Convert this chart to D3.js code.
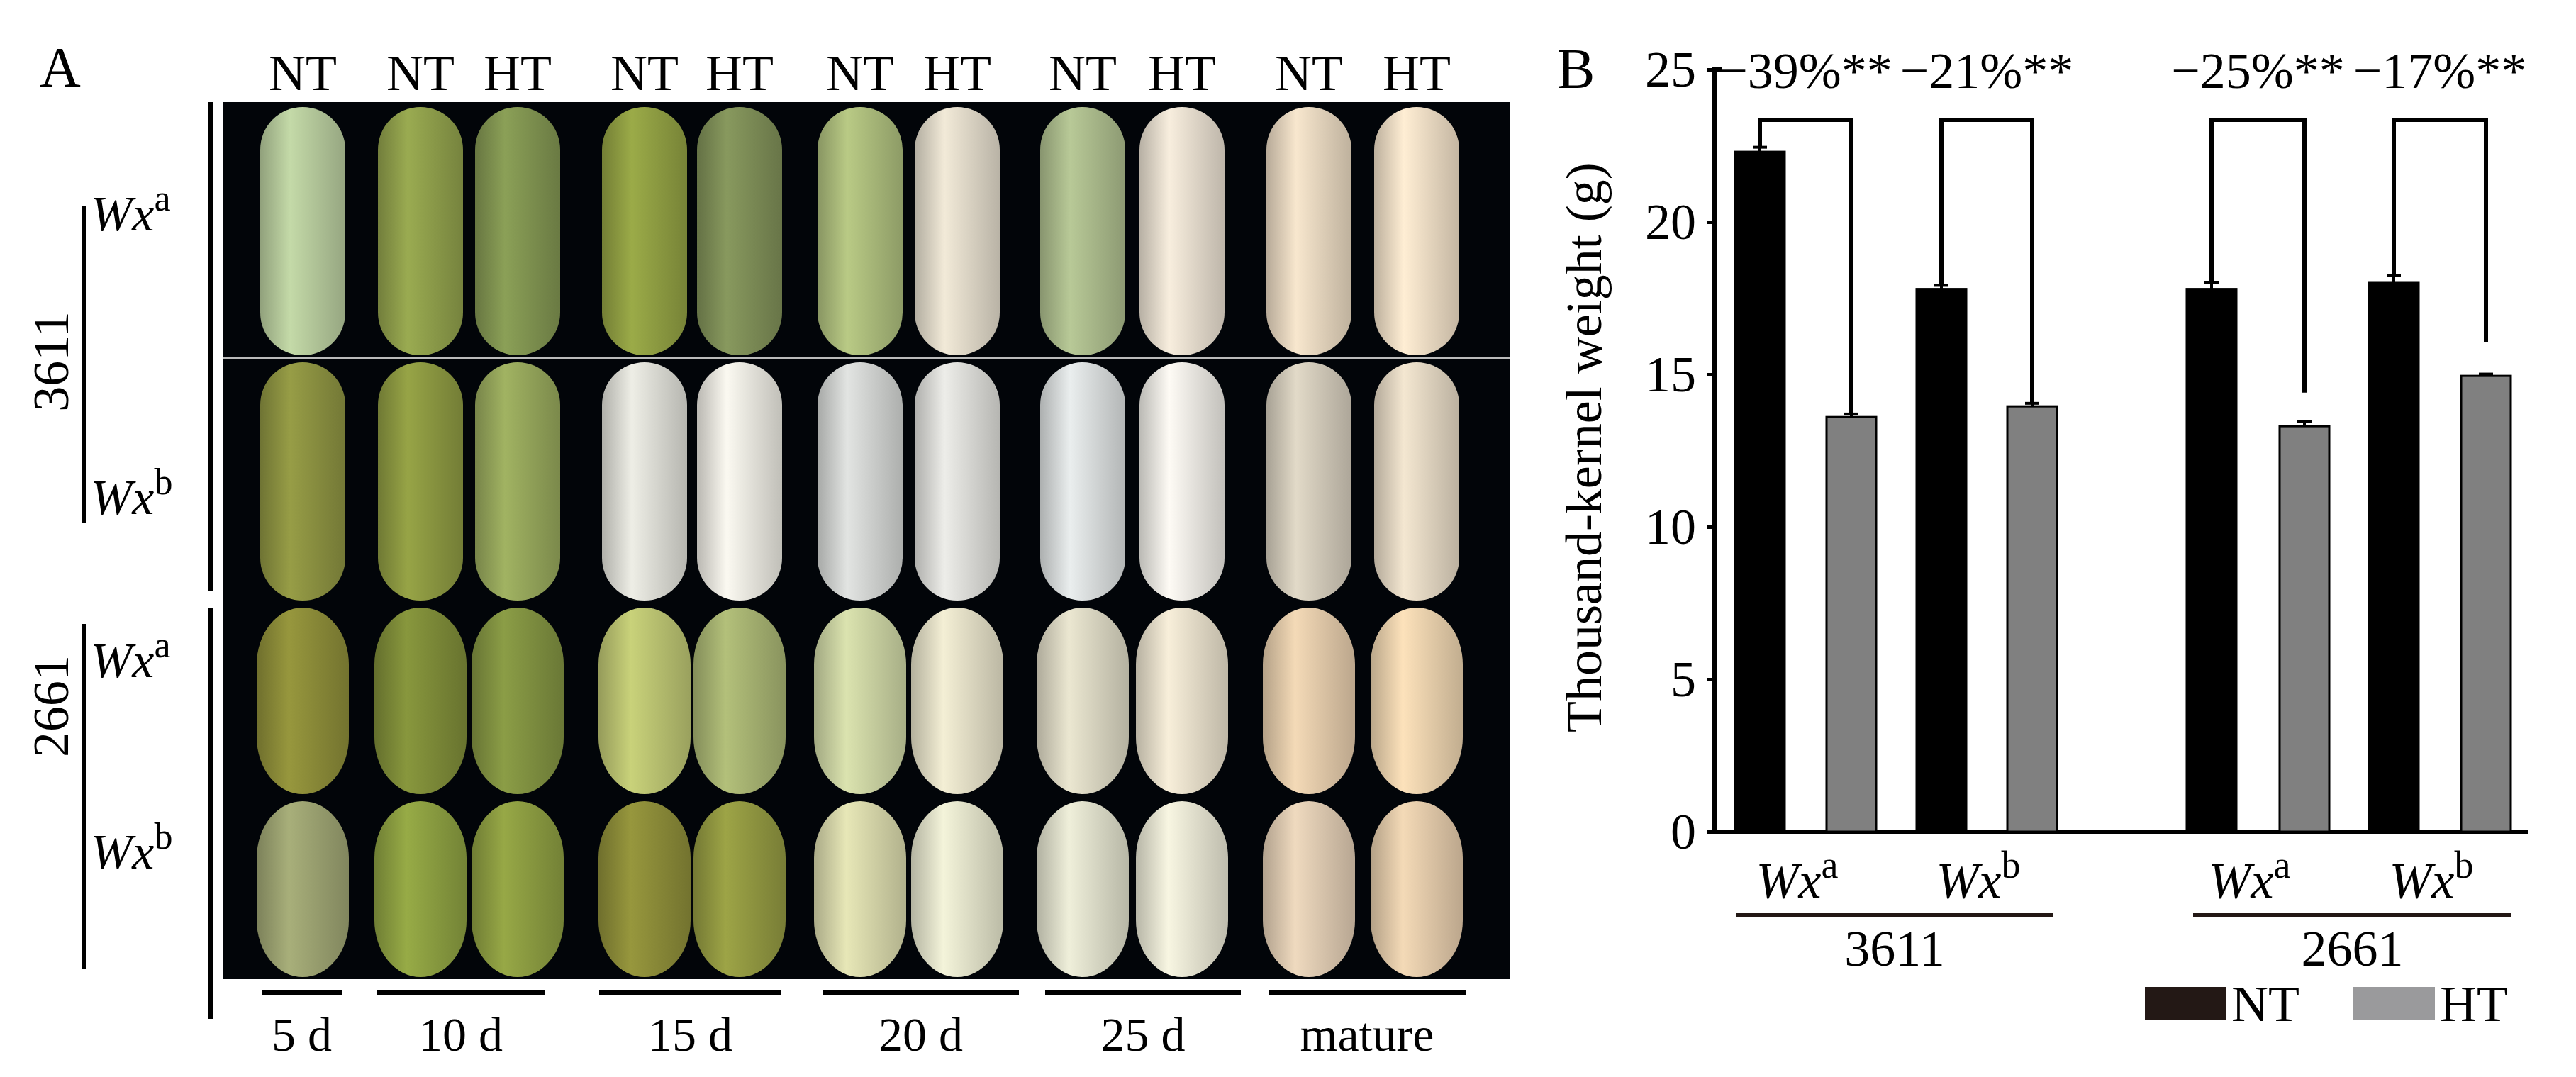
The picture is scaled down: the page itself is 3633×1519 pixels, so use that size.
<!DOCTYPE html>
<html><head><meta charset="utf-8">
<script src="https://cdn.jsdelivr.net/npm/d3@7"></script>
<style>body{margin:0;background:#fff}svg{display:block}text{font-family:"Liberation Serif","DejaVu Serif",serif;fill:#000}</style>
</head><body>
<svg id="c" width="3633" height="1519"></svg>
<script>
// ---- data ----
const groups = ["3611", "2661"];
const alleles = ["a", "b", "a", "b"];
const ntValues = [22.3, 17.8, 17.8, 18.0];
const htValues = [13.6, 13.95, 13.3, 14.95];
const ntErr = [0.15, 0.12, 0.2, 0.25];
const htErr = [0.1, 0.1, 0.15, 0.06];
const changes = ["−39%**", "−21%**", "−25%**", "−17%**"];
const yTicks = [0, 5, 10, 15, 20, 25];
const stageLabels = ["5 d", "10 d", "15 d", "20 d", "25 d", "mature"];
const colTreat = ["NT","NT","HT","NT","HT","NT","HT","NT","HT","NT","HT"];
const grainColors = [
 ["#b3c79a","#8d9c4a","#7f9250","#8e9c42","#7c8c56","#a9b97a","#ddd6c6","#a8b88a","#e3dacb","#e3d3bc","#eadac2"],
 ["#8a9040","#8a9640","#93a45a","#dadad2","#e6e4dc","#cfd1cf","#d9d9d5","#d6dada","#e8e6e0","#cfc7b7","#dfd3bf"],
 ["#8a8a38","#7c8a38","#7f9040","#b8c070","#a4b070","#c8d0a0","#dfdbc3","#d7d3bf","#e3dbc7","#dfc7a7","#e7cfab"],
 ["#9aa070","#8a9c40","#8a9a40","#8a8a38","#909640","#d3d3a7","#dfdfc7","#dbdbc7","#e3e1cf","#dbc7af","#dfc7a7"]
];

const FS = 72;
const svg = d3.select("#c");

// ================= Panel A =================
const A = svg.append("g");
A.append("text").attr("x", 56).attr("y", 122).attr("font-size", 80).text("A");
const colCenters = [427, 593, 730, 909, 1043, 1213, 1350, 1527, 1667, 1846, 1998];
const rowY = d3.scaleOrdinal().domain([0,1,2,3]).range([[151,501],[511,847],[857,1120],[1130,1378]]);
A.append("rect").attr("x", 314).attr("y", 144).attr("width", 1815).attr("height", 1237).attr("fill", "#020509");
A.append("line").attr("x1", 314).attr("x2", 2129).attr("y1", 505).attr("y2", 505).attr("stroke", "#bbb").attr("stroke-width", 2);
const defs = svg.append("defs");
grainColors.forEach((row, r) => row.forEach((c, i) => {
  const id = `g${r}_${i}`;
  const g = defs.append("linearGradient").attr("id", id).attr("x1", 0).attr("x2", 1);
  g.append("stop").attr("offset", "0%").attr("stop-color", d3.color(c).darker(0.6));
  g.append("stop").attr("offset", "35%").attr("stop-color", d3.color(c).brighter(0.25));
  g.append("stop").attr("offset", "100%").attr("stop-color", d3.color(c).darker(0.5));
  const [y0, y1] = rowY(r);
  const w = r < 2 ? 120 : 130;
  A.append("rect").attr("x", colCenters[i] - w / 2).attr("y", y0).attr("width", w).attr("height", y1 - y0)
    .attr("rx", w / 2).attr("ry", r < 2 ? 60 : 80).attr("fill", `url(#${id})`);
}));
colTreat.forEach((t, i) => A.append("text").attr("x", colCenters[i]).attr("y", 127).attr("text-anchor", "middle").attr("font-size", FS).text(t));
const stageSpans = [[369,482],[531,768],[845,1102],[1160,1437],[1474,1750],[1789,2067]];
stageLabels.forEach((s, k) => {
  A.append("line").attr("x1", stageSpans[k][0]).attr("x2", stageSpans[k][1]).attr("y1", 1400).attr("y2", 1400).attr("stroke", "#000").attr("stroke-width", 7);
  A.append("text").attr("x", (stageSpans[k][0] + stageSpans[k][1]) / 2).attr("y", 1482).attr("text-anchor", "middle").attr("font-size", 68).text(s);
});
[[144, 834], [857, 1437]].forEach(([a, b]) => A.append("line").attr("x1", 297).attr("x2", 297).attr("y1", a).attr("y2", b).attr("stroke", "#000").attr("stroke-width", 6));
[[290, 737], [880, 1367]].forEach(([a, b]) => A.append("line").attr("x1", 118).attr("x2", 118).attr("y1", a).attr("y2", b).attr("stroke", "#000").attr("stroke-width", 6));
[[510, groups[0]], [996, groups[1]]].forEach(([y, t]) => A.append("text").attr("transform", `translate(96,${y}) rotate(-90)`).attr("text-anchor", "middle").attr("font-size", FS).text(t));
[[325, "a"], [725, "b"], [955, "a"], [1225, "b"]].forEach(([y, s]) => {
  const t = A.append("text").attr("x", 128).attr("y", y).attr("font-size", 70);
  t.append("tspan").attr("font-style", "italic").text("Wx");
  t.append("tspan").attr("dy", -28).attr("font-size", 52).text(s);
});

// ================= Panel B =================
const B = svg.append("g");
B.append("text").attr("x", 2196).attr("y", 124).attr("font-size", 80).text("B");
const y = d3.scaleLinear().domain([0, 25]).range([1173, 98]);
const x0 = 2418, xEnd = 3566;
const ntX = [2447, 2703, 3084, 3341];
const htX = [2576, 2831, 3215, 3471];
const bw = 70;
const axis = d3.axisLeft(y).tickValues(yTicks).tickSize(10).tickPadding(16);
const ag = B.append("g").attr("transform", `translate(${x0},0)`).call(axis);
ag.select(".domain").attr("stroke-width", 6).attr("d", `M10,${y(25)}H0V${y(0)}`);
ag.selectAll(".tick line").attr("stroke-width", 5);
ag.selectAll(".tick text").attr("font-size", FS).attr("font-family", "Liberation Serif");
B.append("line").attr("x1", x0 - 3).attr("x2", xEnd).attr("y1", y(0)).attr("y2", y(0)).attr("stroke", "#000").attr("stroke-width", 6);
B.append("text").attr("transform", `translate(2258,${y(12.6)}) rotate(-90)`).attr("text-anchor", "middle").attr("font-size", FS).text("Thousand-kernel weight (g)");

function bar(xp, v, e, fill) {
  B.append("line").attr("x1", xp + bw / 2).attr("x2", xp + bw / 2).attr("y1", y(v + e)).attr("y2", y(v)).attr("stroke", "#000").attr("stroke-width", 4);
  B.append("line").attr("x1", xp + bw / 2 - 10).attr("x2", xp + bw / 2 + 10).attr("y1", y(v + e)).attr("y2", y(v + e)).attr("stroke", "#000").attr("stroke-width", 4);
  B.append("rect").attr("x", xp).attr("y", y(v)).attr("width", bw).attr("height", y(0) - y(v)).attr("fill", fill).attr("stroke", "#000").attr("stroke-width", 3);
}
ntValues.forEach((v, i) => {
  bar(ntX[i], v, ntErr[i], "#000");
  bar(htX[i], htValues[i], htErr[i], "#808080");
  const top = y(23.35);
  const xl = ntX[i] + bw / 2, xr = htX[i] + bw / 2;
  const endR = i < 2 ? y(htValues[i] + htErr[i]) : y(htValues[i] + 1.1);
  B.append("path").attr("d", `M${xl},${y(ntValues[i] + ntErr[i])}V${top}H${xr}V${endR}`).attr("fill", "none").attr("stroke", "#000").attr("stroke-width", 6);
  B.append("text").attr("x", (xl + xr) / 2).attr("y", 124).attr("text-anchor", "middle").attr("font-size", FS).text(changes[i]);
  const t = B.append("text").attr("x", (xl + xr) / 2 - 12).attr("y", 1266).attr("text-anchor", "middle").attr("font-size", FS);
  t.append("tspan").attr("font-style", "italic").text("Wx");
  t.append("tspan").attr("dy", -28).attr("font-size", 54).text(alleles[i]);
});
[[2448, 2896, groups[0]], [3093, 3542, groups[1]]].forEach(([a, b, g]) => {
  B.append("line").attr("x1", a).attr("x2", b).attr("y1", 1290).attr("y2", 1290).attr("stroke", "#231815").attr("stroke-width", 6);
  B.append("text").attr("x", (a + b) / 2).attr("y", 1362).attr("text-anchor", "middle").attr("font-size", FS).text(g);
});
[[3025, "#231815", "NT"], [3319, "#9a9a9c", "HT"]].forEach(([xx, c, t]) => {
  B.append("rect").attr("x", xx).attr("y", 1392).attr("width", 115).attr("height", 46).attr("fill", c);
  B.append("text").attr("x", xx + 122).attr("y", 1440).attr("font-size", FS).text(t);
});
</script>
</body></html>
